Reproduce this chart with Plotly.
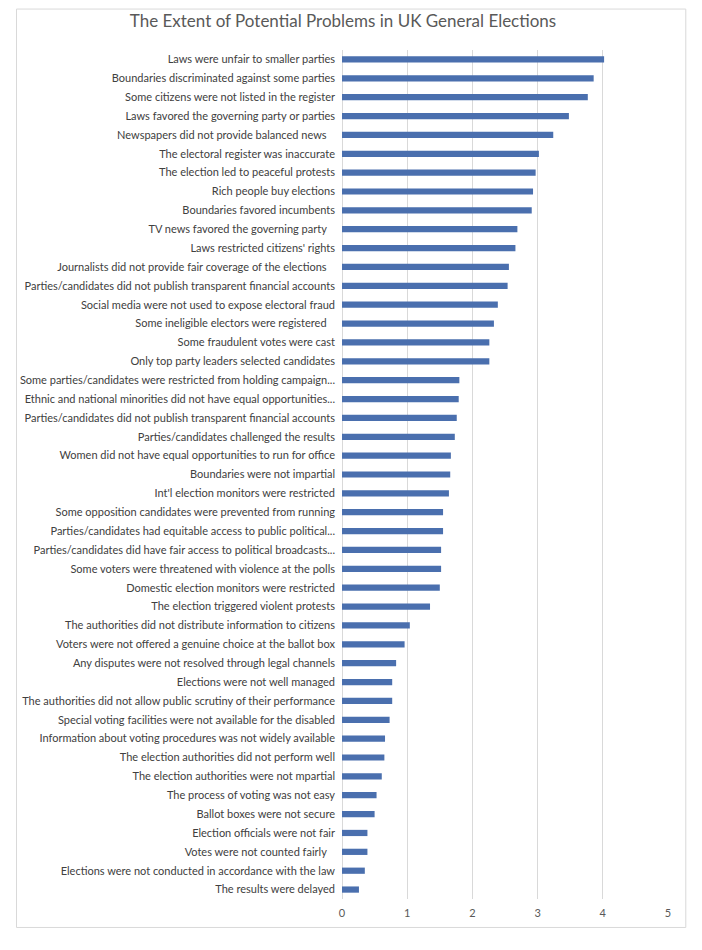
import plotly.graph_objects as go

categories = [
    "Laws were unfair to smaller parties",
    "Boundaries discriminated against some parties",
    "Some citizens were not listed in the register",
    "Laws favored the governing party or parties",
    "Newspapers did not provide balanced news   ",
    "The electoral register was inaccurate",
    "The election led to peaceful protests",
    "Rich people buy elections",
    "Boundaries favored incumbents",
    "TV news favored the governing party   ",
    "Laws restricted citizens' rights",
    "Journalists did not provide fair coverage of the elections   ",
    "Parties/candidates did not publish transparent financial accounts",
    "Social media were not used to expose electoral fraud",
    "Some ineligible electors were registered   ",
    "Some fraudulent votes were cast",
    "Only top party leaders selected candidates",
    "Some parties/candidates were restricted from holding campaign...",
    "Ethnic and national minorities did not have equal opportunities...",
    "Parties/candidates did not publish transparent financial accounts",
    "Parties/candidates challenged the results",
    "Women did not have equal opportunities to run for office",
    "Boundaries were not impartial",
    "Int'l election monitors were restricted",
    "Some opposition candidates were prevented from running",
    "Parties/candidates had equitable access to public political...",
    "Parties/candidates did have fair access to political broadcasts...",
    "Some voters were threatened with violence at the polls",
    "Domestic election monitors were restricted",
    "The election triggered violent protests",
    "The authorities did not distribute information to citizens",
    "Voters were not offered a genuine choice at the ballot box",
    "Any disputes were not resolved through legal channels",
    "Elections were not well managed",
    "The authorities did not allow public scrutiny of their performance",
    "Special voting facilities were not available for the disabled",
    "Information about voting procedures was not widely available",
    "The election authorities did not perform well",
    "The election authorities were not mpartial",
    "The process of voting was not easy",
    "Ballot boxes were not secure",
    "Election officials were not fair",
    "Votes were not counted fairly   ",
    "Elections were not conducted in accordance with the law",
    "The results were delayed",
]

values = [
    4.02, 3.86, 3.77, 3.48, 3.24, 3.02, 2.97, 2.93, 2.91, 2.69,
    2.66, 2.56, 2.54, 2.39, 2.33, 2.26, 2.26, 1.80, 1.79, 1.76,
    1.73, 1.67, 1.66, 1.64, 1.55, 1.55, 1.52, 1.52, 1.50, 1.35,
    1.04, 0.96, 0.83, 0.77, 0.77, 0.73, 0.66, 0.65, 0.61, 0.53,
    0.50, 0.39, 0.39, 0.35, 0.26,
]

x_ticks = [0, 1, 2, 3, 4, 5]

positions = list(range(len(categories)))

# page has an 8px body margin; size the figure so it ends at the window edge
OFF = 8
W, H = 702 - OFF, 950 - OFF
ML, MR, MT, MB = 338 - OFF, 34, 49.5 - OFF, 50.5
pw = W - ML - MR
ph = H - MT - MB

fig = go.Figure(
    go.Bar(
        x=values,
        y=positions,
        orientation="h",
        width=0.33,
        marker=dict(color="#4a6fae", line=dict(width=0)),
        hovertext=categories,
        hoverinfo="text+x",
    )
)

font_family = "Lato, 'Open Sans', sans-serif"

fig.update_layout(
    width=W,
    height=H,
    margin=dict(l=ML, r=MR, t=MT, b=MB),
    paper_bgcolor="white",
    plot_bgcolor="white",
    showlegend=False,
    title=dict(
        text="The Extent of Potential Problems in UK General Elections",
        x=(343 - OFF) / W,
        xanchor="center",
        y=1 - (21.5 - OFF) / H,
        yanchor="middle",
        font=dict(family=font_family, size=17, color="#595959"),
    ),
    xaxis=dict(
        range=[0, 5],
        tickvals=x_ticks,
        ticktext=[str(t) for t in x_ticks],
        showgrid=True,
        gridcolor="#d9d9d9",
        gridwidth=1,
        zeroline=True,
        zerolinecolor="#d9d9d9",
        zerolinewidth=1,
        showline=False,
        ticks="",
        ticklabelstandoff=6,
        tickfont=dict(family=font_family, size=11, color="#595959"),
    ),
    yaxis=dict(
        tickvals=positions,
        ticktext=categories,
        autorange=False,
        range=[len(categories) - 0.5, -0.5],
        showgrid=False,
        zeroline=False,
        showline=False,
        ticks="",
        ticklabelstandoff=6,
        tickfont=dict(family=font_family, size=11, color="#404040"),
    ),
    shapes=[
        dict(
            type="rect",
            xref="paper",
            yref="paper",
            x0=(0.5 - ML) / pw,
            x1=(686 - OFF - ML) / pw,
            y0=(H - MB - (928 - OFF)) / ph,
            y1=(H - MB - 0.5) / ph,
            line=dict(color="#d9d9d9", width=1),
            fillcolor="rgba(0,0,0,0)",
            layer="below",
        )
    ],
)

fig.write_html("out.html")
